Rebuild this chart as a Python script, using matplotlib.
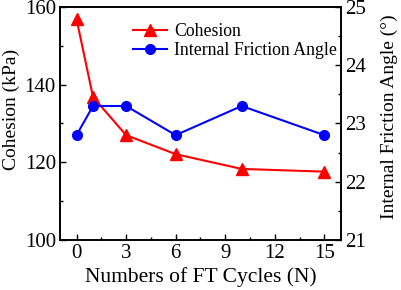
import matplotlib
matplotlib.use("Agg")
import matplotlib.pyplot as plt
from matplotlib.ticker import MultipleLocator

cycles = [0, 1, 3, 6, 10, 15]
cohesion = [156.9, 136.8, 127.0, 122.1, 118.3, 117.6]
friction = [22.8, 23.3, 23.3, 22.8, 23.3, 22.8]

plt.rcParams['font.family'] = ['Liberation Serif', 'DejaVu Serif']

fig = plt.figure(figsize=(4.01, 2.9), dpi=100)
ax = fig.add_axes([0.1496, 0.1724, 0.7004, 0.8036])
ax2 = ax.twinx()

l1, = ax.plot(cycles, cohesion, color='#ff0000', marker='^', markersize=8, lw=1.5, label='Cohesion')
l2, = ax2.plot(cycles, friction, color='#0000ff', marker='o', markersize=7, lw=1.5, label='Internal Friction Angle')

ax.set_xlim(-1, 16)
ax.set_ylim(100, 160)
ax2.set_ylim(21, 25)
ax.xaxis.set_major_locator(MultipleLocator(3))
ax.xaxis.set_minor_locator(MultipleLocator(1.5))
ax.yaxis.set_major_locator(MultipleLocator(20))
ax.yaxis.set_minor_locator(MultipleLocator(10))
ax2.yaxis.set_major_locator(MultipleLocator(1))
ax2.yaxis.set_minor_locator(MultipleLocator(0.5))

for a in (ax, ax2):
    a.tick_params(which='both', direction='in', labelsize=15, width=1, pad=3)
    a.tick_params(which='major', length=4)
    a.tick_params(which='minor', length=2)
    for s in a.spines.values():
        s.set_linewidth(1.2)
ax.tick_params(axis='y', which='both', right=False)

ax.set_xlabel('Numbers of FT Cycles (N)', fontsize=15.5, labelpad=3)
ax.set_ylabel('Cohesion (kPa)', fontsize=14)
ax2.set_ylabel('Internal Friction Angle (°)', fontsize=14)
ax.yaxis.set_label_coords(-0.142, 0.56)
ax2.yaxis.set_label_coords(1.143, 0.53)

ax.legend([l1, l2], ['Cohesion', 'Internal Friction Angle'], loc='upper left',
          bbox_to_anchor=((133 - 60) / 281, (240 - 23) / 233),
          frameon=False, fontsize=12.8, handlelength=1.9, borderaxespad=0,
          handletextpad=0.4, labelspacing=0.12, borderpad=0)

fig.savefig('out.png', dpi=100)
